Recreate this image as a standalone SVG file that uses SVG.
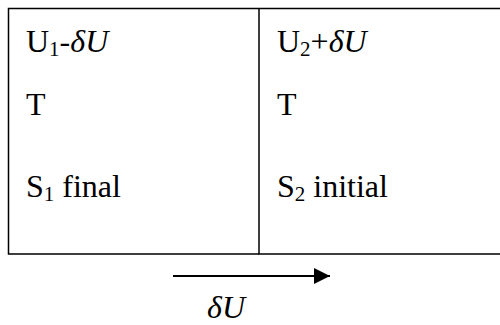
<svg xmlns="http://www.w3.org/2000/svg" width="500" height="325" viewBox="0 0 500 325">
<style>
.t{font-family:'Liberation Serif','Times New Roman',serif;font-size:32px;fill:#000}
.i{font-style:italic}
.box{fill:none;stroke:#000;stroke-width:1.5}
.sub{font-size:21px}
</style>
<defs>
<marker id="ah" markerWidth="8" markerHeight="8" refX="8" refY="4" orient="auto" markerUnits="strokeWidth">
<path d="M0,0 L8,4 L0,8 Z" fill="#000"/>
</marker>
</defs>
<rect width="500" height="325" fill="#fff"/>
<g id="left">
<path class="box" d="M500,8.5 H8.5 V254 H259"/>
<text class="t" x="26" y="52">U<tspan class="sub" dy="4">1</tspan><tspan dy="-4">-</tspan><tspan class="i">δU</tspan></text>
<text class="t" x="26" y="115">T</text>
<text class="t" x="26" y="197">S<tspan class="sub" dy="4">1</tspan><tspan dy="-4"> final</tspan></text>
</g>
<g id="right">
<path class="box" d="M259,8.5 V254 H500"/>
<text class="t" x="277" y="52">U<tspan class="sub" dy="4">2</tspan><tspan dy="-4">+</tspan><tspan class="i">δU</tspan></text>
<text class="t" x="277" y="115">T</text>
<text class="t" x="277" y="197">S<tspan class="sub" dy="4">2</tspan><tspan dy="-4"> initial</tspan></text>
</g>
<g id="connectors">
<line x1="173" y1="276" x2="330" y2="276" stroke="#000" stroke-width="2" marker-end="url(#ah)"/>
<text class="t i" x="207" y="318">δU</text>
</g>
</svg>
